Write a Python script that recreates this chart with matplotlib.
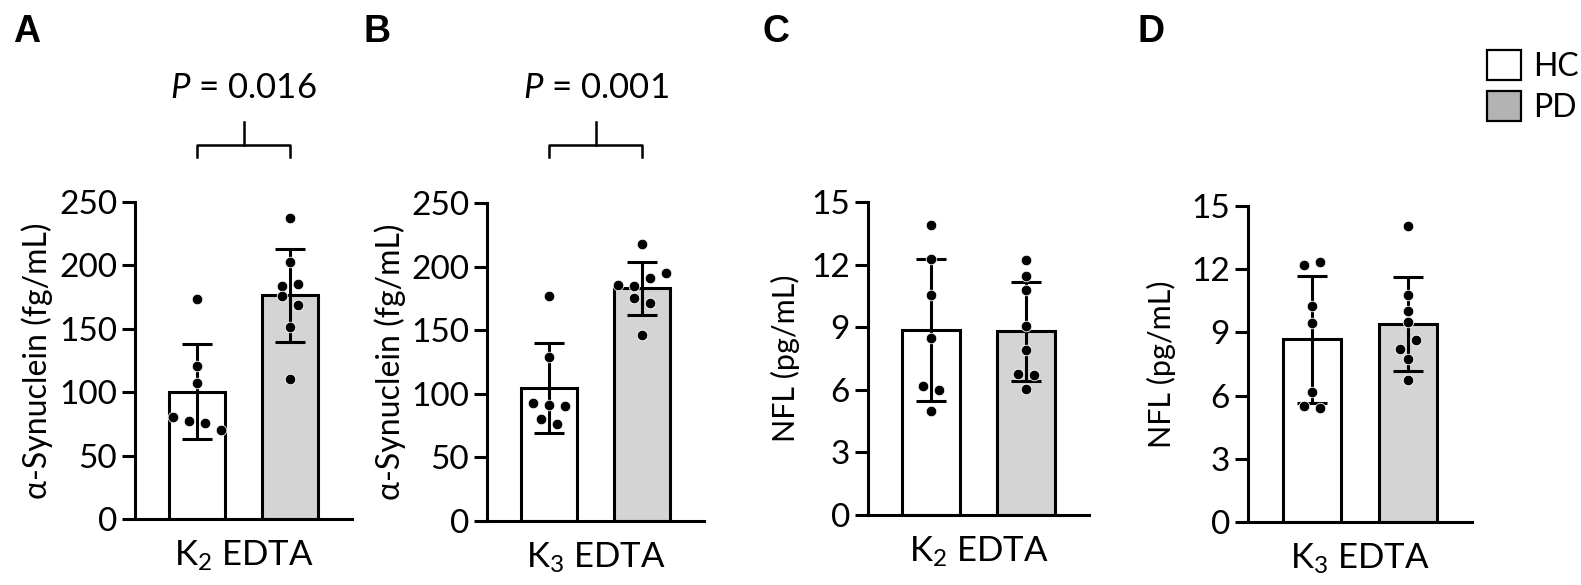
import numpy as np
import matplotlib
matplotlib.use("Agg")
import matplotlib.pyplot as plt
from matplotlib.patches import Patch

plt.rcParams['font.family'] = ['Lato', 'DejaVu Sans']
plt.rcParams['mathtext.fontset'] = 'custom'
plt.rcParams['mathtext.rm'] = 'Lato'
plt.rcParams['mathtext.it'] = 'Lato:italic'

# values (mean, SD, individual subjects)
groups = ['HC', 'PD']
panel_letters = ['A', 'B', 'C', 'D']
tube_labels = [r'K$_2$ EDTA', r'K$_3$ EDTA', r'K$_2$ EDTA', r'K$_3$ EDTA']
y_titles = [r'α-Synuclein (fg/mL)', r'α-Synuclein (fg/mL)', 'NFL (pg/mL)', 'NFL (pg/mL)']
p_texts = ['0.016', '0.001', None, None]

syn_k2_mean = [100.5, 176.3]
syn_k2_sd = [37.2, 36.9]
syn_k2_hc = [173.4, 121.0, 107.6, 80.8, 77.6, 75.5, 70.3]
syn_k2_pd = [237.4, 202.6, 184.0, 185.3, 176.0, 169.0, 151.8, 110.5]

syn_k3_mean = [104.3, 183.0]
syn_k3_sd = [35.5, 20.9]
syn_k3_hc = [177.0, 128.7, 92.4, 91.1, 90.6, 79.8, 76.2]
syn_k3_pd = [218.0, 185.7, 184.9, 191.0, 194.9, 175.0, 171.7, 146.3]

nfl_k2_mean = [8.86, 8.81]
nfl_k2_sd = [3.42, 2.38]
nfl_k2_hc = [13.88, 12.26, 10.56, 8.49, 6.18, 5.98, 4.99]
nfl_k2_pd = [12.21, 11.46, 10.80, 9.05, 7.93, 6.78, 6.73, 6.06]

nfl_k3_mean = [8.67, 9.41]
nfl_k3_sd = [3.03, 2.24]
nfl_k3_hc = [12.18, 12.34, 10.24, 9.45, 6.17, 5.49, 5.43]
nfl_k3_pd = [14.05, 10.79, 10.02, 9.49, 8.23, 8.65, 7.72, 6.72]

syn_ticks = [0, 50, 100, 150, 200, 250]
nfl_ticks = [0, 3, 6, 9, 12, 15]

W, H = 1581, 585
fig = plt.figure(figsize=(W / 100, H / 100), dpi=100)

# axes boxes in pixels: left, top, width, height
boxes = [(135, 202, 217, 317), (487, 203, 217, 318),
         (868, 202, 221, 313), (1248, 206, 224, 316)]
ylab_off = [98, 97, 83, 87]
letter_x = [13, 363, 762, 1138]

means = [syn_k2_mean, syn_k3_mean, nfl_k2_mean, nfl_k3_mean]
sds = [syn_k2_sd, syn_k3_sd, nfl_k2_sd, nfl_k3_sd]
points = [(syn_k2_hc, syn_k2_pd), (syn_k3_hc, syn_k3_pd),
          (nfl_k2_hc, nfl_k2_pd), (nfl_k3_hc, nfl_k3_pd)]
ticks = [syn_ticks, syn_ticks, nfl_ticks, nfl_ticks]
colors = ['white', '#d4d4d4']
LW = 2.2


def spread(vals, ax, step=0.17, gap_px=9.5):
    # put points that sit too close in y side by side
    vals = np.asarray(vals, float)
    ppu = ax.transData.transform((0, 1))[1] - ax.transData.transform((0, 0))[1]
    order = np.argsort(vals, kind='stable')
    clusters, cur = [], [order[0]]
    for a, b in zip(order[:-1], order[1:]):
        if (vals[b] - vals[a]) * ppu < gap_px:
            cur.append(b)
        else:
            clusters.append(cur)
            cur = [b]
    clusters.append(cur)
    off = np.zeros(len(vals))
    for c in clusters:
        c = sorted(c)
        for i, idx in enumerate(c):
            off[idx] = (i - (len(c) - 1) / 2) * step
    return off


for k in range(4):
    l, t, w, h = boxes[k]
    ax = fig.add_axes([l / W, (H - t - h) / H, w / W, h / H])
    ymax = ticks[k][-1]
    ax.set_xlim(-0.667, 1.667)
    ax.set_ylim(0, ymax)

    x = np.arange(2)
    ax.bar(x, means[k], width=0.61, color=colors, edgecolor='black',
           linewidth=LW, zorder=1)
    ax.errorbar(x, means[k], yerr=sds[k], fmt='none', ecolor='black',
                elinewidth=LW, capsize=11, capthick=LW, zorder=2)
    for i, vals in enumerate(points[k]):
        off = spread(vals, ax)
        ax.scatter(i + off, vals, s=58, color='black', edgecolors='white',
                   linewidths=0.6, zorder=3, clip_on=False)

    ax.set_yticks(ticks[k])
    ax.set_xticks([])
    for s in ['top', 'right']:
        ax.spines[s].set_visible(False)
    for s in ['left', 'bottom']:
        ax.spines[s].set_linewidth(LW)
    ax.tick_params(axis='y', width=LW, length=9.4, pad=3.5, labelsize=24)
    ax.set_ylabel(y_titles[k], fontsize=23 if k < 2 else 22, va='center')
    ax.yaxis.set_label_coords(-ylab_off[k] / w, 0.5)

    ax.text(0.5, -47 / h, tube_labels[k], transform=ax.get_xaxis_transform(),
            ha='center', va='baseline', fontsize=25)

    fig.text(letter_x[k] / W, 1 - 42 / H, panel_letters[k], fontsize=27,
             fontweight='bold', family='Liberation Sans', va='baseline')

    if p_texts[k]:
        ppu = h / ymax
        yb = ymax + (t - 145) / ppu
        yl = ymax + (t - 157) / ppu
        ys = ymax + (t - 122) / ppu
        ax.plot([0, 0, 1, 1], [yl, yb, yb, yl], color='black', lw=1.8,
                clip_on=False, solid_joinstyle='round')
        ax.plot([0.5, 0.5], [yb, ys], color='black', lw=1.8, clip_on=False)
        ax.text(0.5, ymax + (t - 98) / ppu, r'$P$ = ' + p_texts[k],
                ha='center', va='baseline', fontsize=25, clip_on=False)

handles = [Patch(facecolor='white', edgecolor='black', linewidth=1.6),
           Patch(facecolor='#b3b3b3', edgecolor='black', linewidth=1.6)]
fig.legend(handles, groups, loc='upper left',
           bbox_to_anchor=(1487 / W, 1 - 50 / H), frameon=False, fontsize=23,
           handlelength=1.05, handleheight=1.05, handletextpad=0.4,
           labelspacing=0.3, borderpad=0, borderaxespad=0)

fig.savefig('out.png', dpi=100)
